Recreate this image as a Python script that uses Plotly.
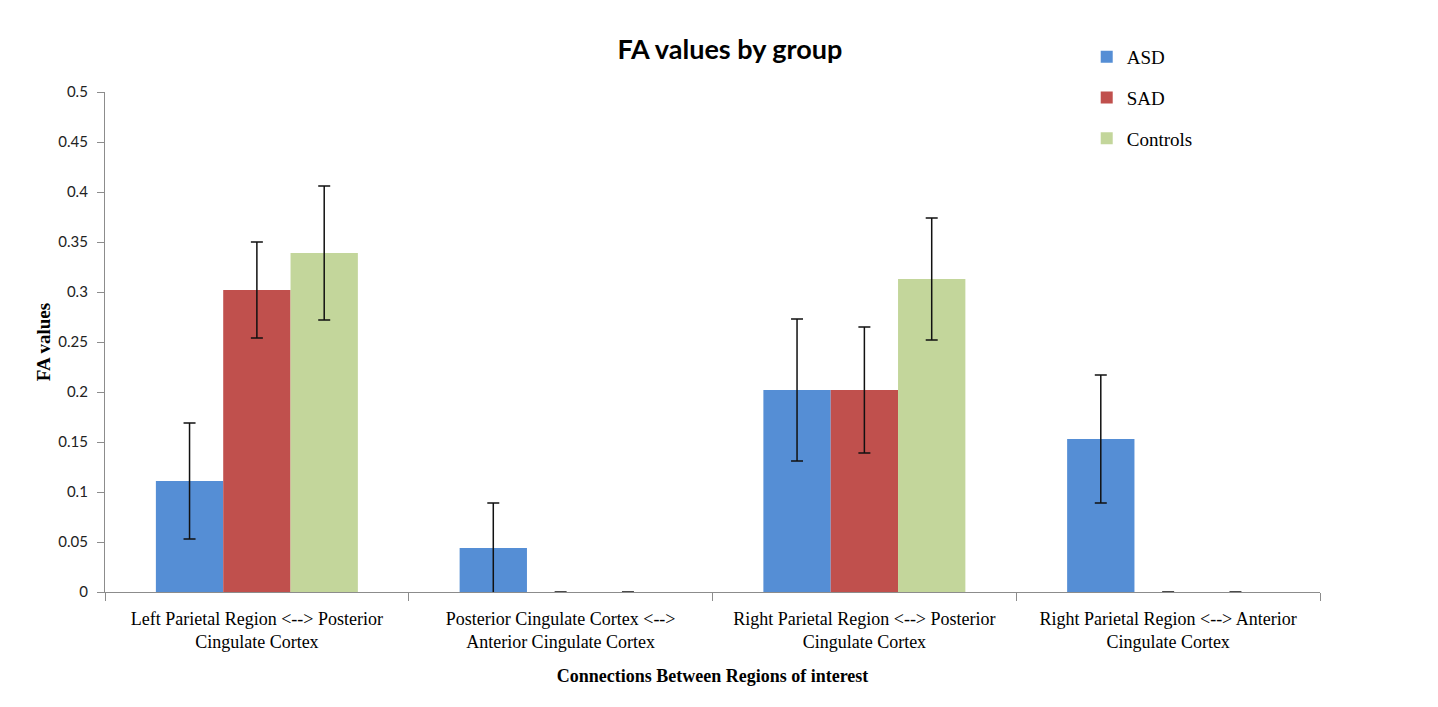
import plotly.graph_objects as go

categories = [
    "Left Parietal Region &lt;--&gt; Posterior<br>Cingulate Cortex",
    "Posterior Cingulate Cortex &lt;--&gt;<br>Anterior Cingulate Cortex",
    "Right Parietal Region &lt;--&gt; Posterior<br>Cingulate Cortex",
    "Right Parietal Region &lt;--&gt; Anterior<br>Cingulate Cortex",
]
asd = [0.111, 0.044, 0.202, 0.153]
asd_err = [0.058, 0.045, 0.071, 0.064]
sad = [0.302, 0.0, 0.202, 0.0]
sad_err = [0.048, 0.0, 0.063, 0.0]
controls = [0.339, 0.0, 0.313, 0.0]
controls_err = [0.067, 0.0, 0.061, 0.0]
y_ticks = [0, 0.05, 0.1, 0.15, 0.2, 0.25, 0.3, 0.35, 0.4, 0.45, 0.5]

series = [
    ("ASD", asd, asd_err, "#558ED5"),
    ("SAD", sad, sad_err, "#C0504D"),
    ("Controls", controls, controls_err, "#C3D69B"),
]

fig = go.Figure()
for name, vals, errs, color in series:
    fig.add_trace(go.Bar(
        x=categories, y=vals, name=name, legendgroup=name,
        marker=dict(color=color, line=dict(width=0)),
        error_y=dict(type="data", array=errs, visible=True,
                     color="#111111", thickness=1.5, width=6),
    ))

fig.update_layout(
    width=1438, height=707,
    paper_bgcolor="white", plot_bgcolor="white",
    margin=dict(l=97, r=126, t=84, b=123),
    barmode="group", bargap=0.335, bargroupgap=0,
    title=dict(text="<b>FA values by group</b>", x=0.502, xref="container", xanchor="center",
               y=0.941, yref="container", yanchor="middle",
               font=dict(family="Lato, Carlito, sans-serif", size=27, color="#000000")),
    legend=dict(x=0.808, y=1.108, xanchor="left", yanchor="top",
                font=dict(family="Liberation Serif, Times New Roman, serif", size=19, color="#000000"),
                tracegroupgap=13, itemwidth=30, bgcolor="rgba(0,0,0,0)"),
    showlegend=True,
)
fig.update_xaxes(
    showline=True, linecolor="#8C8C8C", linewidth=1.3,
    ticks="outside", tickson="boundaries", ticklen=8, tickcolor="#8C8C8C",
    ticklabelstandoff=10,
    tickfont=dict(family="Liberation Serif, Times New Roman, serif", size=18, color="#000000"),
    title=dict(text="<b>Connections Between Regions of interest</b>", standoff=18,
               font=dict(family="Liberation Serif, Times New Roman, serif", size=18, color="#000000")),
)
fig.update_yaxes(
    range=[0, 0.5], tickvals=y_ticks, ticktext=[f"{v:g}" for v in y_ticks],
    showline=True, linecolor="#8C8C8C", linewidth=1.3, showgrid=False, zeroline=False,
    ticks="outside", ticklen=7, tickcolor="#8C8C8C", ticklabelstandoff=6,
    tickfont=dict(family="Lato, Carlito, sans-serif", size=15, color="#222222"),
    title=dict(text="<b>FA values</b>", standoff=2,
               font=dict(family="Liberation Serif, Times New Roman, serif", size=19, color="#000000")),
)

fig.write_html("out.html")
